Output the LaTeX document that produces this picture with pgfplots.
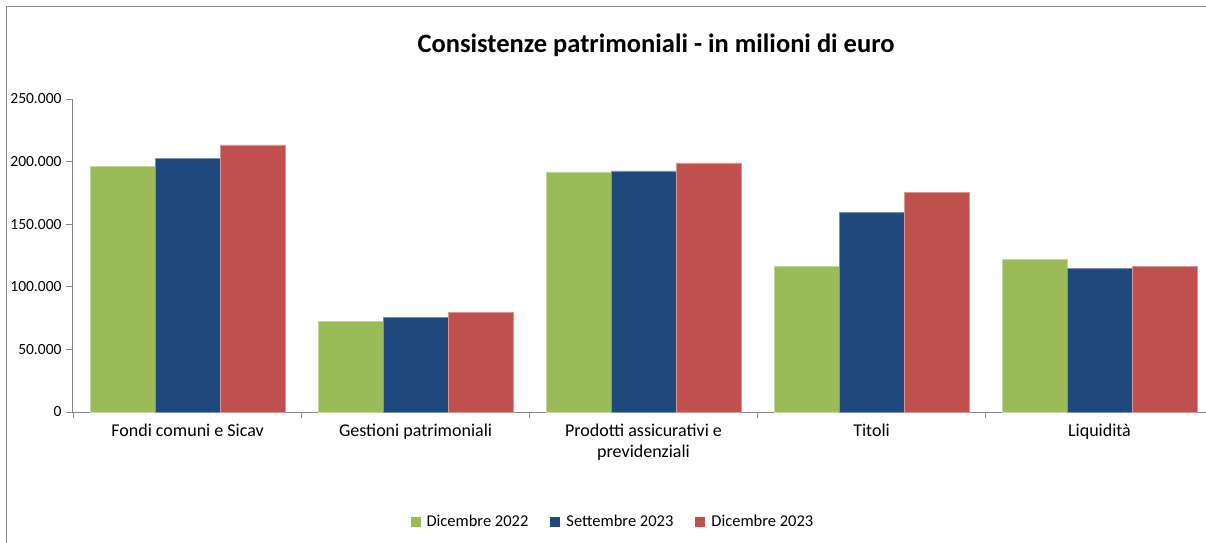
\documentclass[border=0pt]{standalone}
\usepackage{pgfplots}
\pgfplotsset{compat=1.18}
\usepackage{fontspec}
\setmainfont{Carlito}
\definecolor{cgreen}{HTML}{9BBB59}
\definecolor{cblue}{HTML}{1F497D}
\definecolor{cred}{HTML}{C0504D}
\definecolor{axgray}{HTML}{868686}
\definecolor{framegray}{HTML}{8C8C8C}
\begin{document}
\begin{tikzpicture}[x=1pt,y=1pt]
\useasboundingbox (0pt,0pt) rectangle (1206pt,542pt);
\draw[framegray, line width=1pt] (6pt,-5pt) -- (6pt,535pt) -- (1212pt,535pt);
\node[font=\fontsize{26.5}{30}\selectfont\bfseries, anchor=base] at (656pt,489pt) {Consistenze patrimoniali - in milioni di euro};
\begin{axis}[
  at={(72pt,130pt)}, anchor=south west,
  scale only axis, width=1134pt, height=313pt,
  xmin=-0.507, xmax=4.467,
  ymin=0, ymax=250000,
  axis lines*=left,
  axis line style={draw=axgray, line width=0.8pt},
  tick style={draw=axgray, line width=0.8pt},
  tick align=outside,
  major tick length=6pt, minor tick length=6pt,
  xtick={0,1,2,3,4},
  major x tick style={draw=none},
  minor xtick={-0.5,0.5,1.5,2.5,3.5,4.5},
  xticklabels={Fondi comuni e Sicav, Gestioni patrimoniali, {Prodotti assicurativi e\\previdenziali}, Titoli, Liquidità},
  xticklabel style={align=center, font=\fontsize{18}{21}\selectfont, yshift=-2pt},
  ytick={0,50000,100000,150000,200000,250000},
  scaled y ticks=false,
  yticklabels={0,50.000,100.000,150.000,200.000,250.000},
  yticklabel style={font=\fontsize{15.5}{18}\selectfont, xshift=-1pt},
  ybar, bar width=0.285,
  legend columns=3,
  legend style={at={(0.477,-0.351)}, anchor=center, draw=none, fill=none,
    font=\fontsize{16.5}{19}\selectfont, /tikz/every even column/.append style={column sep=20pt}},
  legend image code/.code={\path[draw=none,fill=none] (-3pt,0pt) -- (11pt,0pt); \fill[#1, draw=none] (-3pt,-5pt) rectangle (7pt,5pt);},
]
\addplot[fill=cgreen, draw=cgreen!60!white, line width=0.6pt, bar shift=-0.285] coordinates {(0,196200) (1,72300) (2,191700) (3,116000) (4,121600)};
\addplot[fill=cblue, draw=cblue!60!white, line width=0.6pt, bar shift=0] coordinates {(0,202700) (1,75500) (2,192500) (3,159500) (4,114700)};
\addplot[fill=cred, draw=cred!60!white, line width=0.6pt, bar shift=0.285] coordinates {(0,213300) (1,79700) (2,199000) (3,175700) (4,116000)};
\legend{Dicembre 2022, Settembre 2023, Dicembre 2023}
\end{axis}
\end{tikzpicture}
\end{document}
